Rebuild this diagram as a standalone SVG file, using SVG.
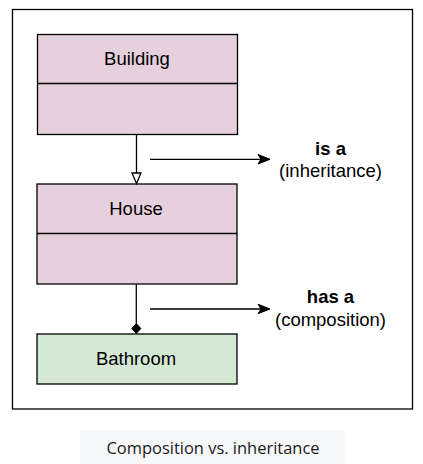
<svg xmlns="http://www.w3.org/2000/svg" width="423" height="464" viewBox="0 0 423 464">
<style>
.box{stroke:#000;stroke-width:1.3}
.pink{fill:#e6d0de}
.green{fill:#d5e8d4}
.lbl{font-family:"Liberation Sans",Arial,sans-serif;font-size:18.5px;fill:#000;text-anchor:middle}
.b{font-weight:bold}
.ln{stroke:#000;stroke-width:1.3;fill:none}
</style>
<rect width="423" height="464" fill="#fff"/>
<rect x="12.5" y="9.5" width="400" height="399.5" fill="#fff" stroke="#000" stroke-width="1.3"/>
<g id="building">
<rect class="box pink" x="37.5" y="34.5" width="200" height="100"/>
<line class="ln" x1="37.5" y1="83.5" x2="237.5" y2="83.5"/>
<text class="lbl" x="137" y="65">Building</text>
</g>
<g id="house">
<rect class="box pink" x="37" y="184" width="200" height="100"/>
<line class="ln" x1="37" y1="233.5" x2="237" y2="233.5"/>
<text class="lbl" x="136" y="215">House</text>
</g>
<g id="bathroom">
<rect class="box green" x="37" y="334" width="200" height="50"/>
<text class="lbl" x="136" y="364.5">Bathroom</text>
</g>
<g id="connectors">
<line class="ln" x1="136.5" y1="134.5" x2="136.5" y2="173"/>
<path d="M132,173 L141,173 L136.5,183.5 Z" fill="#fff" stroke="#000" stroke-width="1.3"/>
<line class="ln" x1="136.3" y1="284" x2="136.3" y2="323.5"/>
<path d="M136.3,323.5 L140.8,328.5 L136.3,333.5 L131.8,328.5 Z" fill="#000" stroke="#000" stroke-width="1"/>
<line class="ln" x1="150" y1="159.3" x2="262" y2="159.3"/>
<path d="M270,159.3 L258,154.5 L261,159.3 L258,164 Z" fill="#000" stroke="#000" stroke-width="1"/>
<line class="ln" x1="150" y1="309" x2="262" y2="309"/>
<path d="M270,309 L258,304.2 L261,309 L258,313.7 Z" fill="#000" stroke="#000" stroke-width="1"/>
</g>
<g id="label-isa">
<text class="lbl b" x="330.5" y="154.5">is a</text>
<text class="lbl" x="330.5" y="177">(inheritance)</text>
</g>
<g id="label-hasa">
<text class="lbl b" x="330.5" y="303">has a</text>
<text class="lbl" x="330.5" y="325.5">(composition)</text>
</g>
<g id="caption">
<rect x="80" y="430" width="265" height="40" rx="4" fill="#f7f8fa"/>
<text x="213" y="453.5" font-family="'Open Sans',Lato,sans-serif" font-size="17" fill="#1a1a1a" text-anchor="middle" textLength="213" lengthAdjust="spacingAndGlyphs">Composition vs. inheritance</text>
</g>
</svg>
